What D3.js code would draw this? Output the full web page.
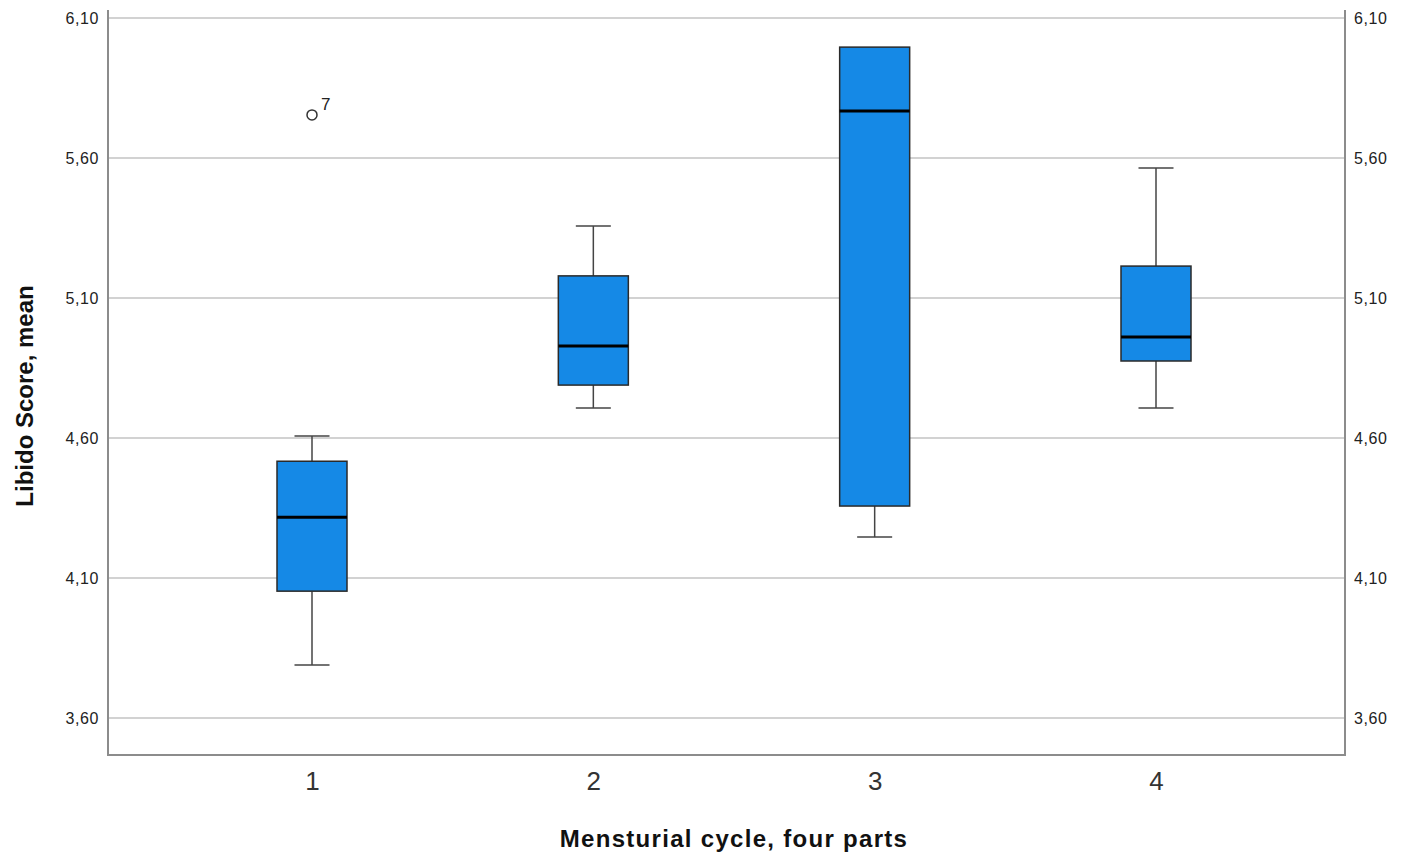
<!DOCTYPE html>
<html>
<head>
<meta charset="utf-8">
<script src="https://cdn.jsdelivr.net/npm/d3@7"></script>
<style>
body{margin:0;background:#fff}
text{font-family:"Liberation Sans",Arial,sans-serif}
</style>
</head>
<body>
<div id="chart"></div>
<script>
// menstrual cycle parts
var categories = ["1","2","3","4"]
var whiskerLow  = [3.789, 4.707, 4.246, 4.707]
var q1          = [4.053, 4.789, 4.357, 4.875]
var median      = [4.317, 4.929, 5.768, 4.961]
var q3          = [4.517, 5.179, 5.996, 5.214]
var whiskerHigh = [4.607, 5.357, 5.996, 5.564]
var outliers = [{cat:"1",value:5.754,label:"7"}]
var yTicks = [3.60, 4.10, 4.60, 5.10, 5.60, 6.10]

var W=1409,H=857
var pLeft=108,pRight=1345,pTop=18,pBottom=755

var svg=d3.select("#chart").append("svg").attr("width",W).attr("height",H)

var x=d3.scalePoint().domain(categories).range([312,1156])
var bw=70
var y=d3.scaleLinear().domain([3.6,6.1]).range([718,18])

var fmt=function(d){return d.toFixed(2).replace(".",",")}

// gridlines
svg.append("g").selectAll("line").data(yTicks).enter().append("line")
	.attr("x1",pLeft).attr("x2",pRight)
	.attr("y1",function(d){return y(d)}).attr("y2",function(d){return y(d)})
	.attr("stroke","#d2d2d2").attr("stroke-width",2)

// axes frame
var axisCol="#8c8c8c"
svg.append("line").attr("x1",pLeft).attr("x2",pLeft).attr("y1",10).attr("y2",pBottom).attr("stroke",axisCol).attr("stroke-width",2)
svg.append("line").attr("x1",pRight).attr("x2",pRight).attr("y1",10).attr("y2",pBottom).attr("stroke",axisCol).attr("stroke-width",2)
svg.append("line").attr("x1",pLeft-1).attr("x2",pRight+1).attr("y1",pBottom).attr("y2",pBottom).attr("stroke",axisCol).attr("stroke-width",2)

var yl=d3.axisLeft(y).tickValues(yTicks).tickFormat(fmt).tickSize(0).tickPadding(9)
var gl=svg.append("g").attr("transform","translate("+pLeft+",0)").call(yl)
gl.select(".domain").remove()
gl.selectAll("text").attr("font-size","16px").attr("letter-spacing","0.6px").attr("fill","#222").attr("dy","0.32em")

var yr=d3.axisRight(y).tickValues(yTicks).tickFormat(fmt).tickSize(0).tickPadding(9)
var gr=svg.append("g").attr("transform","translate("+pRight+",0)").call(yr)
gr.select(".domain").remove()
gr.selectAll("text").attr("font-size","16px").attr("letter-spacing","0.6px").attr("fill","#222").attr("dy","0.32em")

var xa=d3.axisBottom(x).tickSize(0).tickPadding(17)
var gx=svg.append("g").attr("transform","translate(0,"+pBottom+")").call(xa)
gx.select(".domain").remove()
gx.selectAll("text").attr("font-size","26px").attr("fill","#333")

// boxes
var boxes=categories.map(function(c,i){return {c:c,lo:whiskerLow[i],q1:q1[i],md:median[i],q3:q3[i],hi:whiskerHigh[i]}})
var g=svg.append("g").selectAll("g").data(boxes).enter().append("g")

g.append("line").attr("x1",function(d){return x(d.c)}).attr("x2",function(d){return x(d.c)})
	.attr("y1",function(d){return y(d.lo)}).attr("y2",function(d){return y(d.q1)}).attr("stroke","#444").attr("stroke-width",1.5)
g.append("line").attr("x1",function(d){return x(d.c)}).attr("x2",function(d){return x(d.c)})
	.attr("y1",function(d){return y(d.q3)}).attr("y2",function(d){return y(d.hi)}).attr("stroke","#444").attr("stroke-width",1.5)
g.append("line").attr("x1",function(d){return x(d.c)-bw/4}).attr("x2",function(d){return x(d.c)+bw/4})
	.attr("y1",function(d){return y(d.lo)}).attr("y2",function(d){return y(d.lo)}).attr("stroke","#444").attr("stroke-width",1.5)
g.filter(function(d){return d.hi>d.q3}).append("line").attr("x1",function(d){return x(d.c)-bw/4}).attr("x2",function(d){return x(d.c)+bw/4})
	.attr("y1",function(d){return y(d.hi)}).attr("y2",function(d){return y(d.hi)}).attr("stroke","#444").attr("stroke-width",1.5)
g.append("rect").attr("x",function(d){return x(d.c)-bw/2}).attr("width",bw)
	.attr("y",function(d){return y(d.q3)}).attr("height",function(d){return y(d.q1)-y(d.q3)})
	.attr("fill","#1589e6").attr("stroke","#2a2a2a").attr("stroke-width",1.5)
g.append("line").attr("x1",function(d){return x(d.c)-bw/2}).attr("x2",function(d){return x(d.c)+bw/2})
	.attr("y1",function(d){return y(d.md)}).attr("y2",function(d){return y(d.md)}).attr("stroke","#000").attr("stroke-width",3)

// outliers
var og=svg.append("g").selectAll("g").data(outliers).enter().append("g")
og.append("circle").attr("cx",function(d){return x(d.cat)}).attr("cy",function(d){return y(d.value)})
	.attr("r",5).attr("fill","#fff").attr("stroke","#333").attr("stroke-width",1.5)
og.append("text").attr("x",function(d){return x(d.cat)+9}).attr("y",function(d){return y(d.value)-5})
	.text(function(d){return d.label}).attr("font-size","17px").attr("fill","#222")

// titles
svg.append("text").attr("x",734).attr("y",847).attr("text-anchor","middle")
	.attr("font-size","24px").attr("letter-spacing","1.3px").attr("font-weight","bold").attr("fill","#111").text("Mensturial cycle, four parts")
svg.append("text").attr("transform","translate(33,396) rotate(-90)").attr("text-anchor","middle")
	.attr("font-size","24px").attr("font-weight","bold").attr("fill","#111").text("Libido Score, mean")
</script>
</body>
</html>
